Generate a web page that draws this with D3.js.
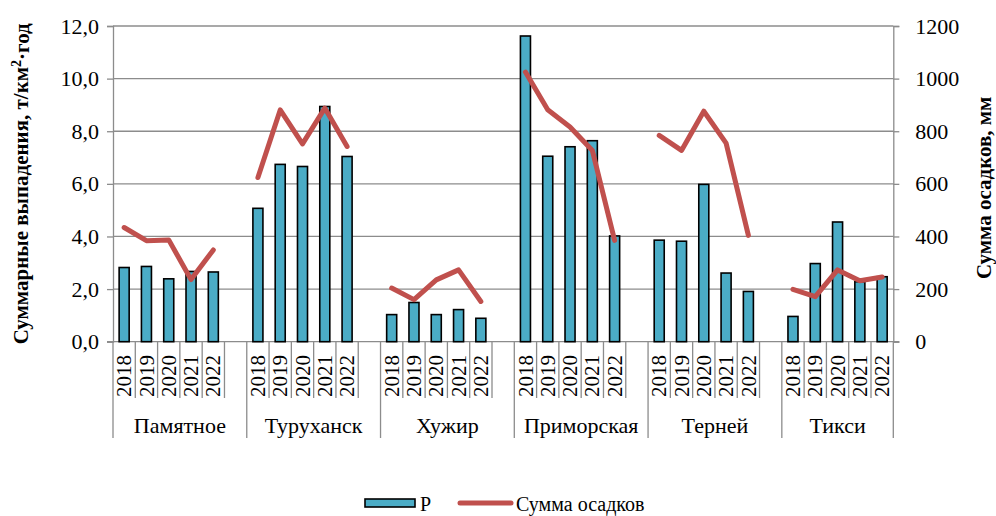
<!DOCTYPE html>
<html><head><meta charset="utf-8">
<script src="https://cdn.jsdelivr.net/npm/d3@7"></script>
<style>
html,body{margin:0;padding:0;background:#fff;}
svg{display:block;}
svg text{font-family:"Liberation Serif","Times New Roman","DejaVu Serif",serif;}
</style></head>
<body><svg id="c" width="996" height="516"></svg>
<script>
const stations = ["Памятное","Туруханск","Хужир","Приморская","Терней","Тикси"];
const years = ["2018","2019","2020","2021","2022"];
const pValues = [
  [2.82, 2.86, 2.39, 2.67, 2.65],
  [5.07, 6.74, 6.66, 8.94, 7.04],
  [1.03, 1.49, 1.03, 1.22, 0.89],
  [11.62, 7.05, 7.41, 7.64, 4.02],
  [3.86, 3.82, 5.98, 2.61, 1.91],
  [0.96, 2.97, 4.55, 2.28, 2.47]
];
const precipValues = [
  [434, 384, 387, 236, 349],
  [624, 881, 752, 888, 742],
  [204, 160, 235, 273, 153],
  [1025, 882, 816, 727, 385],
  [784, 727, 876, 755, 404],
  [199, 171, 273, 232, 246]
];
const leftTicks = [0,2,4,6,8,10,12];
const rightTicks = [0,200,400,600,800,1000,1200];
const leftTitle = "Суммарные выпадения, т/км";
const rightTitle = "Сумма осадков, мм";
const seriesNames = ["P","Сумма осадков"];

const FONT = '"Liberation Serif","Times New Roman","DejaVu Serif",serif';
const svg = d3.select("#c");
const L = 113, R = 893.3, T = 26, B = 341.7;
const barColor = "#4BACC6", lineColor = "#C0504D", gridColor = "#8C8C8C";

// slots: each station has 5 years, plus a blank slot between stations
const slots = [];
stations.forEach((s, si) => {
  years.forEach(y => slots.push(s + "|" + y));
  if (si < stations.length - 1) slots.push(s + "|blank");
});
const x = d3.scaleBand().domain(slots).range([L, R]).padding(0);
const bw = x.bandwidth();
const yL = d3.scaleLinear().domain([0, 12]).range([B, T]);
const yR = d3.scaleLinear().domain([0, 1200]).range([B, T]);

// gridlines
svg.append("g").selectAll("line").data(leftTicks.filter(d => d > 0)).join("line")
  .attr("x1", L).attr("x2", R).attr("y1", d => yL(d)).attr("y2", d => yL(d))
  .attr("stroke", gridColor).attr("stroke-width", 1.3);

// left axis
const gl = svg.append("g").attr("transform", `translate(${L},0)`)
  .call(d3.axisLeft(yL).tickValues(leftTicks).tickSize(6).tickPadding(8)
    .tickFormat(d => d3.format(".1f")(d).replace(".", ",")));
gl.attr("font-family", FONT);
gl.select(".domain").attr("stroke", gridColor).attr("stroke-width", 1.3);
gl.selectAll(".tick line").attr("stroke", gridColor).attr("stroke-width", 1.3);
gl.selectAll(".tick text").attr("font-size", 22).attr("fill", "#000");

// right axis
const gr = svg.append("g").attr("transform", `translate(${R},0)`)
  .call(d3.axisRight(yR).tickValues(rightTicks).tickSize(6).tickPadding(16)
    .tickFormat(d3.format("d")));
gr.attr("font-family", FONT);
gr.select(".domain").attr("stroke", gridColor).attr("stroke-width", 1.3);
gr.selectAll(".tick line").attr("stroke", gridColor).attr("stroke-width", 1.3);
gr.selectAll(".tick text").attr("font-size", 22).attr("fill", "#000");

// bottom axis line
svg.append("line").attr("x1", L - 6).attr("x2", R + 6).attr("y1", B).attr("y2", B)
  .attr("stroke", gridColor).attr("stroke-width", 1.3);

// category separators
const yearBottom = 398, groupBottom = 438;
const boundaries = [];
slots.forEach((s, i) => boundaries.push({pos: x(s), group: i === 0 || slots[i-1].endsWith("blank")}));
boundaries.push({pos: R, group: true});
svg.append("g").selectAll("line").data(boundaries).join("line")
  .attr("x1", d => d.pos).attr("x2", d => d.pos)
  .attr("y1", B).attr("y2", d => d.group ? groupBottom : yearBottom)
  .attr("stroke", gridColor).attr("stroke-width", 1.3);

// year labels
const yearData = [];
stations.forEach(s => years.forEach(y => yearData.push({key: s + "|" + y, year: y})));
svg.append("g").selectAll("text").data(yearData).join("text")
  .attr("transform", d => `translate(${x(d.key) + bw/2},${yearBottom - 1}) rotate(-90)`)
  .attr("dy", "0.34em").attr("text-anchor", "start")
  .attr("font-size", 21).text(d => d.year);

// station labels
svg.append("g").selectAll("text").data(stations).join("text")
  .attr("x", (s, i) => {
    const start = x(s + "|2018");
    const end = i < stations.length - 1 ? x(s + "|blank") + bw : R;
    return (start + end) / 2;
  })
  .attr("y", 425).attr("dy", "0.35em").attr("text-anchor", "middle")
  .attr("font-size", 22).text(d => d);

// bars
const barData = [];
stations.forEach((s, si) => years.forEach((y, yi) => barData.push({key: s + "|" + y, v: pValues[si][yi]})));
const barW = bw * 0.45;
svg.append("g").selectAll("rect").data(barData).join("rect")
  .attr("x", d => x(d.key) + (bw - barW) / 2).attr("width", barW)
  .attr("y", d => yL(d.v)).attr("height", d => yL(0) - yL(d.v))
  .attr("fill", barColor).attr("stroke", "#000").attr("stroke-width", 1.6);

// lines (one per station)
const line = d3.line().x(d => x(d.key) + bw / 2).y(d => yR(d.v));
stations.forEach((s, si) => {
  const pts = years.map((y, yi) => ({key: s + "|" + y, v: precipValues[si][yi]}));
  svg.append("path").datum(pts).attr("d", line)
    .attr("fill", "none").attr("stroke", lineColor).attr("stroke-width", 5)
    .attr("stroke-linejoin", "round").attr("stroke-linecap", "round");
});

// axis titles
const midY = (T + B) / 2;
const lt = svg.append("text").attr("transform", `translate(21,${midY}) rotate(-90)`)
  .attr("text-anchor", "middle").attr("dy", "0.35em")
  .attr("font-size", 21).attr("font-weight", "bold");
lt.append("tspan").text(leftTitle);
lt.append("tspan").attr("font-size", 14).attr("dy", "-0.55em").text("2");
lt.append("tspan").attr("dy", "0.38em").text("·год");

svg.append("text").attr("transform", `translate(984,${midY + 4}) rotate(-90)`)
  .attr("text-anchor", "middle").attr("dy", "0.35em")
  .attr("font-size", 21).attr("font-weight", "bold").text(rightTitle);

// legend
const lg = svg.append("g");
lg.append("rect").attr("x", 365).attr("y", 499).attr("width", 50).attr("height", 8)
  .attr("fill", barColor).attr("stroke", "#000").attr("stroke-width", 1.6);
lg.append("text").attr("x", 420).attr("y", 511).attr("font-size", 20).text(seriesNames[0]);
lg.append("line").attr("x1", 460).attr("x2", 511).attr("y1", 503).attr("y2", 503)
  .attr("stroke", lineColor).attr("stroke-width", 5).attr("stroke-linecap", "round");
lg.append("text").attr("x", 516).attr("y", 511).attr("font-size", 20).text(seriesNames[1]);
</script></body></html>
